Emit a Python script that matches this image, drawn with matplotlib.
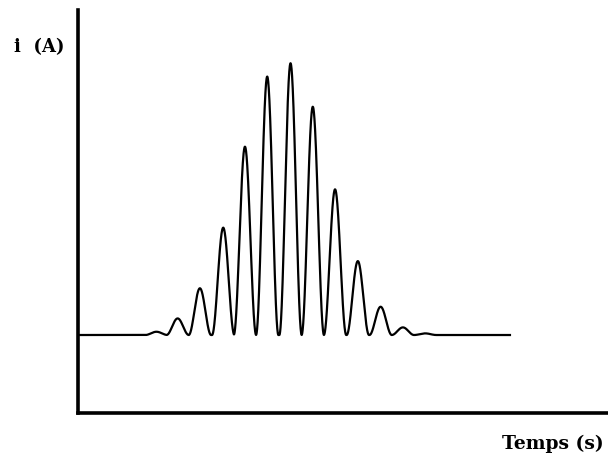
import matplotlib.pyplot as plt
import numpy as np

# peak times (s, arbitrary units) and peak currents (A, normalised)
peak_t = [1.48, 1.88, 2.30, 2.74, 3.15, 3.57, 4.01, 4.43, 4.85, 5.28, 5.71, 6.13, 6.55]
peak_i = [0.012, 0.061, 0.172, 0.395, 0.693, 0.951, 1.0, 0.840, 0.536, 0.272, 0.104, 0.028, 0.006]
t_start = 0.0
t_end = 8.15

fig = plt.figure(figsize=(6.08, 4.63), dpi=100)
ax = fig.add_axes([78 / 608, 50 / 463, 530 / 608, 403 / 463])

# each oscillation drawn as one lobe that sits on the baseline
period = np.diff(peak_t).mean()
t = np.linspace(t_start, t_end, 4000)
i = np.zeros_like(t)
for tp, ip in zip(peak_t, peak_i):
    m = np.abs(t - tp) <= period / 2
    i[m] += ip * (1 + np.cos(2 * np.pi * (t[m] - tp) / period)) / 2

ax.plot(t, i, color='black', lw=1.6)

ax.set_xlim(-0.0, 10.0)
ax.set_ylim(-0.287, 1.196)
ax.spines['top'].set_visible(False)
ax.spines['right'].set_visible(False)
ax.spines['left'].set_linewidth(2.6)
ax.spines['bottom'].set_linewidth(2.6)
ax.set_xticks([])
ax.set_yticks([])

fig.text(14 / 608, 1 - 47 / 463, 'i  (A)', fontfamily='DejaVu Serif', fontweight='bold',
         fontsize=13, va='center', ha='left')
fig.text(604 / 608, 1 - 444 / 463, 'Temps (s)', fontfamily='DejaVu Serif', fontweight='bold',
         fontsize=13.5, va='center', ha='right')

fig.savefig('out.png', dpi=100)
